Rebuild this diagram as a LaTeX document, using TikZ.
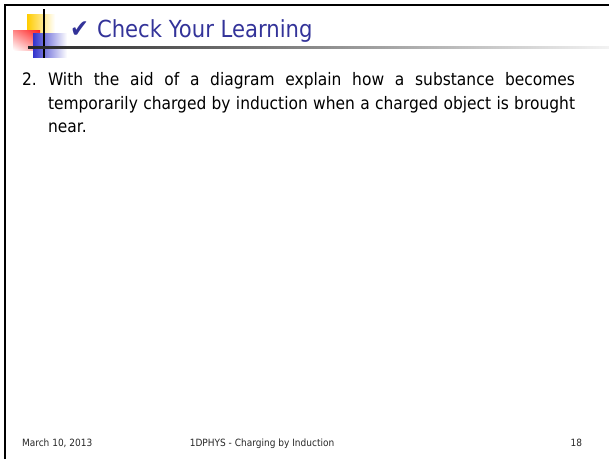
\documentclass[tikz,border=0pt]{standalone}
\usepackage{fontspec}
\setmainfont[FakeStretch=0.9]{DejaVu Sans}
\usetikzlibrary{positioning, shadings}
\definecolor{titleblue}{RGB}{51,51,153}
\definecolor{logoyellow}{RGB}{255,204,0}
\definecolor{logored}{RGB}{255,30,30}
\definecolor{logoblue}{RGB}{51,51,204}

\begin{document}
\begin{tikzpicture}[x=1pt, y=-1pt,
    every node/.style={inner sep=0pt, outer sep=0pt},
    body/.style={font=\fontsize{17.2}{23.5}\selectfont},
    foot/.style={font=\fontsize{10}{11}\selectfont, text=black!85}]
    \useasboundingbox (0,0) rectangle (609,459);
    % frame
    \draw[line width=2pt] (4.5,459) -- (4.5,5) -- (609,5);
    % logo
    \shade[left color=logoyellow, middle color=logoyellow, right color=white] (27,14) rectangle (55,32);
    \shade[upper right=logored, upper left=logored!55, lower right=logored!45, lower left=white] (13,30) rectangle (40,50);
    \shade[left color=logoblue, middle color=logoblue!75, right color=white] (33,33) rectangle (67,57);
    \draw[line width=1.6pt] (44,9) -- (44,58);
    \shade[left color=black!85, right color=black!5] (28,46.5) rectangle (609,48);
    % title
    \node[anchor=base west, font=\fontsize{25}{26}\selectfont, text=titleblue] (tick) at (70,37.5) {✔};
    \node[anchor=base west, font=\fontsize{23.5}{26}\selectfont, text=titleblue] (title) at (97,37.5) {Check Your Learning};
    % question
    \node[anchor=base west, body] (num) at (22,85.7) {2.};
    \node[anchor=base west, body, text width=527pt, align=justify] (question) at (48,85.7)
      {\hyphenpenalty=10000 With the aid of a diagram explain how a substance becomes\linebreak
       temporarily charged by induction when a charged object is brought\linebreak near.};
    % footer
    \node[anchor=base west, foot] (date) at (22,446) {March 10, 2013};
    \node[anchor=base, foot] (course) at (262,446) {1DPHYS - Charging by Induction};
    \node[anchor=base east, foot] (page) at (582,446) {18};
\end{tikzpicture}
\end{document}
